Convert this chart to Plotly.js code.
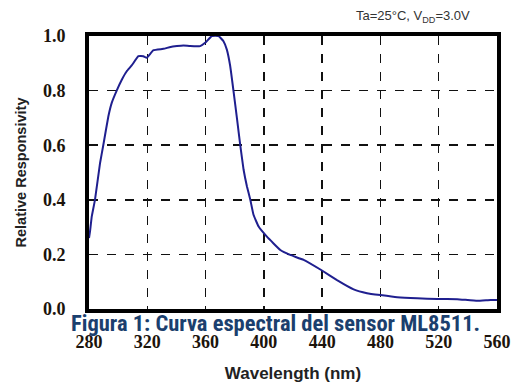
<!DOCTYPE html>
<html><head><meta charset="utf-8">
<script src="https://cdn.plot.ly/plotly-3.0.1.min.js"></script>
<style>html,body{margin:0;padding:0;background:#fff}#chart{width:513px;height:385px}</style>
</head><body><div id="chart"></div>
<script>
const wavelength = [280, 280.7, 281.9, 284.1, 287.6, 289.8, 293.3, 295.6, 299, 302.5, 305.9, 309.3, 313.9, 317.3, 319.6, 324.2, 331.1, 336, 340.3, 344.8, 349.4, 356.3, 359.7, 364.3, 368.9, 372.3, 374.6, 376.9, 379.2, 381.5, 383.8, 386.1, 388.4, 390.7, 392.9, 396.4, 402.1, 411.3, 418.1, 427.3, 439.9, 450.2, 461.6, 470.8, 480, 491.5, 505.2, 519, 532.7, 546.5, 555.6, 560];
const responsivity = [0.26, 0.284, 0.339, 0.4, 0.535, 0.6, 0.706, 0.755, 0.8, 0.84, 0.871, 0.892, 0.926, 0.926, 0.92, 0.948, 0.953, 0.96, 0.963, 0.965, 0.963, 0.963, 0.975, 1.0, 1.0, 0.981, 0.95, 0.89, 0.797, 0.7, 0.6, 0.51, 0.449, 0.4, 0.345, 0.302, 0.265, 0.216, 0.198, 0.18, 0.141, 0.106, 0.072, 0.058, 0.051, 0.043, 0.039, 0.037, 0.036, 0.03, 0.033, 0.033];
const xTicks = [280, 320, 360, 400, 440, 480, 520, 560];
const yTicks = [0.0, 0.2, 0.4, 0.6, 0.8, 1.0];
const xTitle = "Wavelength (nm)";
const yTitle = "Relative Responsivity";
const condition = "Ta=25°C, V<sub>DD</sub>=3.0V";
const caption = "Figura 1: Curva espectral del sensor ML8511.";

const tickFont = {family: "Liberation Serif", size: 18, color: "#1c140c"};
const trace = {x: wavelength, y: responsivity, type: "scatter", mode: "lines",
  line: {color: "#1f1f8f", width: 2, shape: "spline", smoothing: 0.3}, hoverinfo: "skip"};
const layout = {
  width: 513, height: 385,
  margin: {l: 89, r: 16, t: 36, b: 76},
  paper_bgcolor: "#fff", plot_bgcolor: "#fff",
  showlegend: false,
  xaxis: {range: [280, 560], tickvals: xTicks, ticktext: xTicks.map(v => "<b>" + v + "</b>"),
    showgrid: true, gridcolor: "#111", gridwidth: 1.5, griddash: "dash",
    showline: true, mirror: true, linecolor: "#000", linewidth: 4,
    ticks: "", ticklabelstandoff: 13, tickfont: tickFont, zeroline: false,
    title: {text: "<b>" + xTitle + "</b>", font: {family: "Liberation Sans", size: 17, color: "#222"}, standoff: 18}},
  yaxis: {range: [0, 1.0], tickvals: yTicks, ticktext: yTicks.map(v => "<b>" + v.toFixed(1) + "</b>"),
    showgrid: true, gridcolor: "#111", gridwidth: 1.5, griddash: "dash",
    showline: true, mirror: true, linecolor: "#000", linewidth: 4,
    ticks: "", ticklabelstandoff: 16, tickfont: tickFont, zeroline: false,
    title: {text: "<b>" + yTitle + "</b>", font: {family: "Liberation Sans", size: 14.5, color: "#222"}, standoff: 14}},
  annotations: [
    {text: condition, xref: "paper", yref: "paper", x: 0.939, y: 1.0, yshift: 20, xanchor: "right", yanchor: "middle",
     showarrow: false, font: {family: "Liberation Sans", size: 13, color: "#333"}},
    {text: "<b>" + caption + "</b>", xref: "paper", yref: "paper", x: 0.456, y: 0, yshift: -14, xanchor: "center", yanchor: "middle",
     showarrow: false, font: {family: "Liberation Sans Narrow, Roboto Condensed, Arial Narrow, sans-serif", size: 22.5, color: "#1b3f6e"}}
  ]
};
Plotly.newPlot("chart", [trace], layout, {staticPlot: true, displayModeBar: false});
</script></body></html>
